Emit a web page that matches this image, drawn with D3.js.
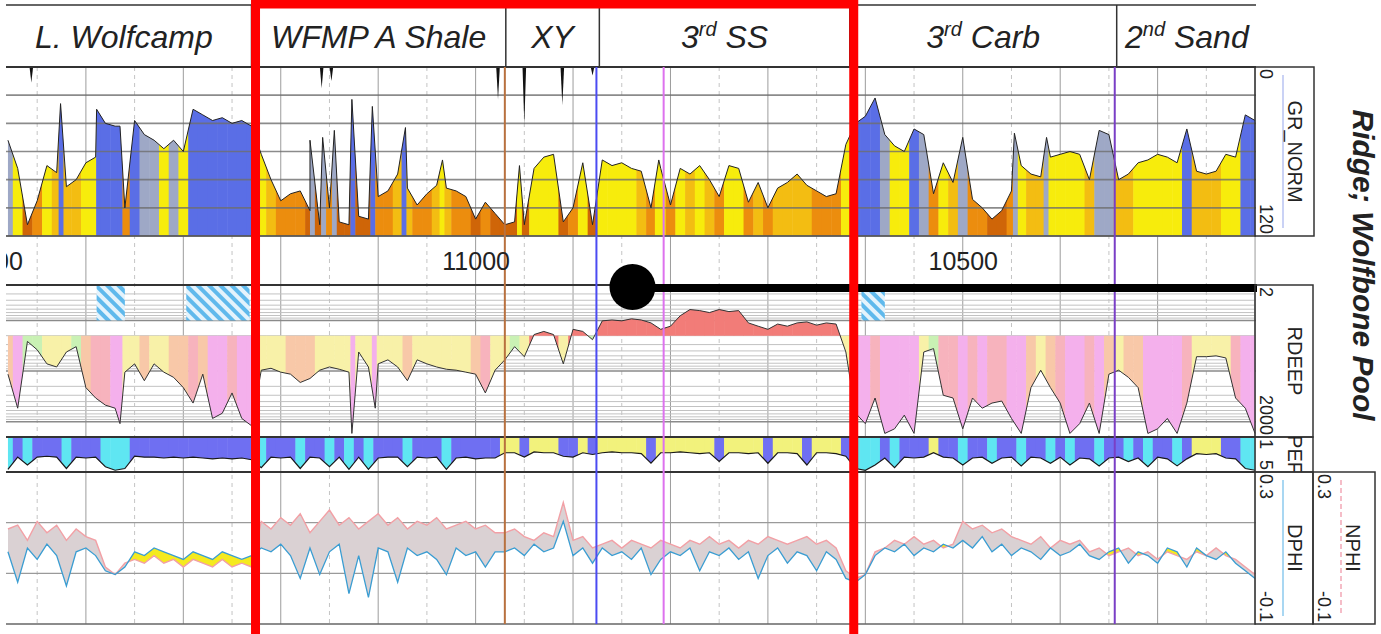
<!DOCTYPE html>
<html>
<head>
<meta charset="utf-8">
<script src="https://cdn.jsdelivr.net/npm/d3@7"></script>
<style>
body { margin: 0; background: #fff; }
text { font-family: Arial, "Liberation Sans", sans-serif; fill: #222; white-space: pre; }
</style>
</head>
<body>
<script>
// samples every 10 ft starting at 11480 ft
var depthTop = 11480, depthStep = 10;

var grValues = [52,72,112,95,70,75,85,80,68,64,
  40,42,100,38,48,52,58,52,60,30,
  34,38,36,40,38,42,62,80,95,90,
  88,102,112,100,110,112,106,108,92,88,
  76,86,98,90,84,86,88,92,108,96,
  104,112,110,112,72,64,62,110,100,68,
  112,66,70,68,72,74,100,72,98,72,
  76,70,80,92,70,72,96,82,100,86,
  82,76,84,88,92,90,55,40,35,22,
  48,56,60,44,48,90,68,82,50,94,
  100,108,102,88,70,76,78,64,62,60,
  62,80,45,48,80,76,68,66,62,64,
  68,44,74,76,74,62,64,34,38];
// thin spikes between samples [depth, GR]
var grSpikes = [[11426,26],[11389,30],[11365,42],[11170,52],[11157,50],[11145,45],[11127,23],
  [11106,28],[11072,43],[11034,66],[10955,70],[10812,66],[10447,47],[10414,50]];
// wrapped backup curve hanging from the top [depth, GR]
var grWrap = [[11456,11],[11158,15],[11148,10],[10977,23],[10950,41],[10911,27],[10880,6]];

var rdeepValues = [115,540,26,38,72,83,42,33,212,340,
  470,540,105,72,155,72,105,133,212,428,
  115,860,680,270,860,1200,96,88,105,115,
  168,140,96,83,92,105,42,83,72,60,
  83,155,60,72,83,92,96,105,115,270,
  96,60,33,52,19,16.5,19,72,15,16.5,
  24,10.2,9.8,10.2,9.3,9.8,11.2,15,13,8.1,
  6.1,6.4,7,6.1,6.7,6.4,11.2,13,15,11.8,
  13,11.2,10.7,12.4,11.2,11.8,42,680,1090,340,
  1700,1380,740,1700,42,36,300,340,1380,340,
  540,428,390,860,1700,212,96,212,428,1700,
  1090,428,1700,115,96,133,212,1700,1380,860,
  1700,428,52,52,50,55,340,540,1700];
var rdeepSpikes = [[11365,1090],[11127,1700],[11103,540]];
var rdeepCut = 20;

var pefValues = [4.7,3.3,4.2,3.3,3.2,3.3,4.6,3.3,3.4,3.3,
  4.4,4.8,4.6,3.2,3.3,3.3,3.4,3.3,3.4,3.3,
  3.4,3.5,3.4,3.5,3.4,3.6,4.5,3.3,3.4,3.3,
  4.6,3.3,3.4,4.4,3.3,4.7,3.3,4.7,3.4,3.3,
  3.3,4.4,3.3,3.4,3.3,4.7,3.4,3.3,3.5,3.4,
  3.4,2.8,2.8,3.3,2.7,2.8,2.8,3.2,3.3,2.8,
  3.0,2.8,2.7,2.8,2.8,2.9,4.0,2.8,2.8,2.7,
  2.8,2.9,2.8,3.8,2.8,2.8,2.9,2.8,4.0,2.8,
  2.8,2.9,4.2,2.8,2.8,2.9,3.2,4.6,4.8,4.2,
  3.4,4.5,3.3,3.4,3.3,2.8,3.3,3.4,4.2,3.4,
  3.3,4.0,3.4,3.3,4.3,3.3,3.4,4.0,3.3,4.2,
  3.4,3.5,4.3,3.4,3.3,3.8,3.4,4.4,3.3,3.5,
  4.3,3.5,2.9,3.0,2.9,3.4,3.5,4.6,4.8];
// L = limestone, S = sand, D = dolomite
var pefLith = "DLDLLLDLLL" + "DDDLLLLLLL" + "LLLLLLDLLL" + "DLLDLDLDLL" + "LDLLLDLLLL" +
  "LSSLSSSLLS" + "LSSSSSLSSS" + "SSSLSSSSLS" + "SSLSSSLDDD" + "LDLLLSLLDL" +
  "LDLLDLLDLD" + "LLDLLDLDLL" + "DLSSSLLDD";

var nphiValues = [0.15,0.16,0.12,0.17,0.14,0.16,0.12,0.15,0.13,0.12,
  0.05,0.03,0.06,
  0.07,0.06,0.08,0.06,0.07,0.05,0.07,0.06,0.05,0.07,0.05,0.06,0.05,
  0.17,0.15,0.18,0.16,0.19,0.14,0.17,0.20,0.16,0.18,0.15,0.17,0.19,0.16,0.18,0.15,0.17,0.16,0.18,0.15,0.16,0.17,0.15,0.16,0.14,
  0.14,0.15,0.13,0.12,0.14,0.13,0.22,0.12,0.13,0.10,
  0.11,0.12,0.10,0.12,0.11,0.10,0.12,0.11,0.10,0.12,0.11,0.13,0.11,0.12,0.10,0.12,0.11,0.13,0.12,0.11,0.12,0.13,0.11,0.12,0.10,
  0.04,0.02,0.03,
  0.09,0.10,0.12,0.11,0.13,0.11,0.12,0.10,0.11,
  0.17,0.15,0.16,0.14,0.15,0.13,
  0.12,0.11,0.13,0.10,0.12,0.11,0.12,0.09,0.10,0.08,0.09,0.10,0.08,0.09,0.07,0.09,0.08,0.07,0.09,0.08,0.10,0.08,0.07,0.05,0.03];
var dphiValues = [0.09,0.01,0.10,0.07,0.11,0.08,0.00,0.09,0.10,0.08,
  0.04,0.03,0.05,
  0.09,0.08,0.10,0.09,0.08,0.07,0.09,0.08,0.07,0.09,0.08,0.07,0.08,
  0.10,0.09,0.11,0.08,0.02,0.10,0.03,0.09,0.11,-0.02,0.08,-0.03,0.10,0.09,0.01,0.10,0.08,0.09,0.07,0.03,0.10,0.08,0.09,0.05,0.09,
  0.09,0.10,0.08,0.11,0.09,0.10,0.17,0.08,0.10,0.06,
  0.10,0.08,0.09,0.07,0.10,0.03,0.07,0.09,0.08,0.10,0.04,0.09,0.08,0.10,0.07,0.09,0.02,0.08,0.10,0.06,0.09,0.08,0.04,0.09,0.07,
  0.02,0.01,0.03,
  0.08,0.10,0.09,0.11,0.08,0.10,0.09,0.11,0.10,
  0.12,0.10,0.13,0.09,0.11,0.08,
  0.10,0.09,0.07,0.10,0.08,0.09,0.11,0.08,0.07,0.09,0.10,0.06,0.09,0.08,0.06,0.10,0.09,0.05,0.10,0.08,0.07,0.09,0.06,0.04,0.02];

var depthLabels = [11500, 11000, 10500];
var zoneNames = ["L. Wolfcamp", "WFMP A Shale", "XY", "3rd SS", "3rd Carb", "2nd Sand"];
var zoneTops = [11492, 11230, 10969, 10873, 10616, 10342, 10198];
var markerTops = [10970, 10876, 10807, 10344];
var markerColors = ["#b8713f", "#4b4bf2", "#dd72ee", "#7a3fc6"];
var flagZones = [[11389, 11360], [11297, 11232], [10604, 10580]];
var lateral = [10839, 10198];
var trackNames = ["GR_NORM", "RDEEP", "PEF", "DPHI", "NPHI"];
var trackMin = ["0", "2", "1", "0.3", "0.3"];
var trackMax = ["120", "2000", "5", "-0.1", "-0.1"];
var title = "Ridge; Wolfbone Pool";

var width = 1381, height = 634;
var left = 6, right = 1256;
var gr = {top: 67, bottom: 236}, rd = {top: 285, bottom: 437},
    pef = {top: 437, bottom: 472}, phi = {top: 472, bottom: 624};

var svg = d3.select("body").append("svg")
    .attr("width", width)
    .attr("height", height);
var defs = svg.append("defs");

var x = d3.scaleLinear().domain([11482, 10198]).range([left, 1257]);
var yGR = d3.scaleLinear().domain([0, 120]).range([gr.top, gr.bottom]);
var yRD = d3.scaleLog().domain([2, 2000]).range([rd.top, rd.bottom]).clamp(true);
var yPEF = d3.scaleLinear().domain([1, 5]).range([pef.top, pef.bottom]).clamp(true);
var yPHI = d3.scaleLinear().domain([0.3, -0.1]).range([phi.top, phi.bottom]).clamp(true);

var depths = grValues.map(function(d, i) { return depthTop - i * depthStep; });

function points(vals, spikes) {
  var pts = vals.map(function(v, i) { return {d: depths[i], v: v, i: i}; });
  (spikes || []).forEach(function(s) { pts.push({d: s[0], v: s[1], i: -1}); });
  return pts.sort(function(a, b) { return b.d - a.d; });
}

function strips(pts) {
  var xs = pts.map(function(p) { return x(p.d); });
  return pts.map(function(p, i) {
    var l = i == 0 ? xs[0] - (xs[1] - xs[0]) / 2 : (xs[i - 1] + xs[i]) / 2;
    var r = i == xs.length - 1 ? xs[i] + (xs[i] - xs[i - 1]) / 2 : (xs[i] + xs[i + 1]) / 2;
    return {x0: l, x1: r, p: p};
  });
}

defs.append("clipPath").attr("id", "plotClip")
  .append("rect").attr("x", left).attr("y", 0).attr("width", right - left).attr("height", height);

var hatch = defs.append("pattern").attr("id", "hatch")
    .attr("width", 8).attr("height", 8)
    .attr("patternUnits", "userSpaceOnUse")
    .attr("patternTransform", "rotate(-45)");
hatch.append("rect").attr("width", 8).attr("height", 8).attr("fill", "#e4f3fc");
hatch.append("rect").attr("width", 4).attr("height", 8).attr("fill", "#5fb9ec");

var plot = svg.append("g").attr("clip-path", "url(#plotClip)");

// depth grid
var gridDepths = d3.range(10200, 11500, 50);
plot.append("g").selectAll("line").data(gridDepths).join("line")
    .attr("x1", function(d) { return x(d); })
    .attr("x2", function(d) { return x(d); })
    .attr("y1", gr.top).attr("y2", phi.bottom)
    .attr("stroke", function(d) { return d % 100 == 0 ? "#9c9c9c" : "#c4c4c4"; })
    .attr("stroke-dasharray", function(d) { return d % 100 == 0 ? null : "4,4"; });

// resistivity log grid
plot.append("g").selectAll("line").data(yRD.ticks()).join("line")
    .attr("x1", left).attr("x2", right)
    .attr("y1", function(d) { return yRD(d); })
    .attr("y2", function(d) { return yRD(d); })
    .attr("stroke", function(d) { return [10, 100, 1000].indexOf(d) >= 0 ? "#8a8a8a" : "#c2c2c2"; })
    .attr("stroke-width", function(d) { return [10, 100, 1000].indexOf(d) >= 0 ? 1.5 : 1; });

// porosity grid
var phiGrid = [1, 2].map(function(k) { return 0.3 - k * 0.4 / 3; });
plot.append("g").selectAll("line").data(phiGrid).join("line")
    .attr("x1", left).attr("x2", right)
    .attr("y1", function(d) { return yPHI(d); })
    .attr("y2", function(d) { return yPHI(d); })
    .attr("stroke", "#9a9a9a").attr("stroke-width", 1.3);

// GR track
var grColor = d3.scaleThreshold().domain([45, 55, 73, 88, 101])
    .range(["#5a6ee6", "#9ea8c6", "#f7ec0c", "#f3bd12", "#ec8d0e", "#cf6508"]);
var grPts = points(grValues, grSpikes);
var grArea = d3.area().x(function(p) { return x(p.d); }).y0(gr.bottom).y1(function(p) { return yGR(p.v); });
var grLine = d3.line().x(function(p) { return x(p.d); }).y(function(p) { return yGR(p.v); });
defs.append("clipPath").attr("id", "grClip").append("path").attr("d", grArea(grPts));
plot.append("g").attr("clip-path", "url(#grClip)")
  .selectAll("rect").data(strips(grPts)).join("rect")
    .attr("x", function(s) { return s.x0; })
    .attr("width", function(s) { return s.x1 - s.x0 + 0.5; })
    .attr("y", gr.top).attr("height", gr.bottom - gr.top)
    .attr("fill", function(s) { return grColor(s.p.v); });
plot.append("g").selectAll("line").data(yGR.ticks(6)).join("line")
    .attr("x1", left).attr("x2", right)
    .attr("y1", function(d) { return yGR(d); })
    .attr("y2", function(d) { return yGR(d); })
    .attr("stroke", "#6e6e6e").attr("stroke-opacity", 0.8).attr("stroke-width", 1.6);
plot.append("path").attr("d", grLine(grPts))
    .attr("fill", "none").attr("stroke", "#222").attr("stroke-width", 1);
plot.append("g").selectAll("path").data(grWrap).join("path")
    .attr("d", function(s) {
      var cx = x(s[0]);
      return "M" + (cx - 1.8) + "," + gr.top + "L" + cx + "," + yGR(s[1]) + "L" + (cx + 1.8) + "," + gr.top + "Z";
    })
    .attr("fill", "#111");

// RDEEP track
var rdColor = d3.scaleThreshold().domain([rdeepCut, 40, 110, 220, 500])
    .range(["#f27c78", "#c9f1b4", "#f8f1a8", "#f8c8a8", "#f7b3bd", "#f4b0ec"]);
var rdPts = points(rdeepValues, rdeepSpikes);
var rdArea = d3.area().x(function(p) { return x(p.d); }).y0(yRD(rdeepCut)).y1(function(p) { return yRD(p.v); });
var rdLine = d3.line().x(function(p) { return x(p.d); }).y(function(p) { return yRD(p.v); });
defs.append("clipPath").attr("id", "rdClip").append("path").attr("d", rdArea(rdPts));
plot.append("g").attr("clip-path", "url(#rdClip)")
  .selectAll("rect").data(strips(rdPts)).join("rect")
    .attr("x", function(s) { return s.x0; })
    .attr("width", function(s) { return s.x1 - s.x0 + 0.5; })
    .attr("y", rd.top).attr("height", rd.bottom - rd.top)
    .attr("fill", function(s) { return rdColor(s.p.v); });
plot.append("g").selectAll("rect").data(flagZones).join("rect")
    .attr("x", function(z) { return x(z[0]); })
    .attr("width", function(z) { return x(z[1]) - x(z[0]); })
    .attr("y", rd.top + 1).attr("height", yRD(10) - rd.top - 1)
    .attr("fill", "url(#hatch)");
plot.append("path").attr("d", rdLine(rdPts))
    .attr("fill", "none").attr("stroke", "#333").attr("stroke-width", 1);

// PEF track
var lithColor = {L: "#6f6ff2", S: "#f2f27c", D: "#5fe6f2"};
var pefPts = points(pefValues);
var pefArea = d3.area().x(function(p) { return x(p.d); }).y0(pef.top).y1(function(p) { return yPEF(p.v); });
var pefLine = d3.line().x(function(p) { return x(p.d); }).y(function(p) { return yPEF(p.v); });
defs.append("clipPath").attr("id", "pefClip").append("path").attr("d", pefArea(pefPts));
plot.append("g").attr("clip-path", "url(#pefClip)")
  .selectAll("rect").data(strips(pefPts)).join("rect")
    .attr("x", function(s) { return s.x0; })
    .attr("width", function(s) { return s.x1 - s.x0 + 0.5; })
    .attr("y", pef.top).attr("height", pef.bottom - pef.top)
    .attr("fill", function(s) { return lithColor[pefLith[s.p.i]]; });
plot.append("path").attr("d", pefLine(pefPts))
    .attr("fill", "none").attr("stroke", "#1a1a1a").attr("stroke-width", 1.2);

// porosity track with crossover shading
var phiPts = depths.map(function(d, i) { return {d: d, n: nphiValues[i], p: dphiValues[i]}; });
var px = function(p) { return x(p.d); };
var aboveN = d3.area().x(px).y0(phi.top).y1(function(p) { return yPHI(p.n); });
var belowN = d3.area().x(px).y0(phi.bottom).y1(function(p) { return yPHI(p.n); });
var band = d3.area().x(px).y0(function(p) { return yPHI(p.n); }).y1(function(p) { return yPHI(p.p); });
defs.append("clipPath").attr("id", "aboveN").append("path").attr("d", aboveN(phiPts));
defs.append("clipPath").attr("id", "belowN").append("path").attr("d", belowN(phiPts));
plot.append("path").attr("d", band(phiPts)).attr("clip-path", "url(#aboveN)").attr("fill", "#f5ea1e");
plot.append("path").attr("d", band(phiPts)).attr("clip-path", "url(#belowN)").attr("fill", "#dad1d3");
plot.append("path").attr("d", d3.line().x(px).y(function(p) { return yPHI(p.n); })(phiPts))
    .attr("fill", "none").attr("stroke", "#f2a0a6").attr("stroke-width", 1.4);
plot.append("path").attr("d", d3.line().x(px).y(function(p) { return yPHI(p.p); })(phiPts))
    .attr("fill", "none").attr("stroke", "#3a9dd2").attr("stroke-width", 1.3);

// track frames
var frames = [[gr.top, "#333", 2], [gr.bottom, "#555", 1.5], [rd.top, "#333", 2],
  [pef.top, "#333", 2], [pef.bottom, "#333", 2], [phi.bottom, "#666", 1.5]];
plot.append("g").selectAll("line").data(frames).join("line")
    .attr("x1", left).attr("x2", right)
    .attr("y1", function(f) { return f[0]; }).attr("y2", function(f) { return f[0]; })
    .attr("stroke", function(f) { return f[1]; })
    .attr("stroke-width", function(f) { return f[2]; });

// zone header
var header = svg.append("g").attr("clip-path", "url(#plotClip)");
header.append("line").attr("x1", left).attr("x2", x(10198)).attr("y1", 5).attr("y2", 5)
    .attr("stroke", "#333").attr("stroke-width", 1.5);
header.selectAll("line.sep").data(zoneTops.slice(1)).join("line")
    .attr("class", "sep")
    .attr("x1", function(d) { return x(d); }).attr("x2", function(d) { return x(d); })
    .attr("y1", 5).attr("y2", gr.top)
    .attr("stroke", "#333").attr("stroke-width", 1.5);
zoneNames.forEach(function(name, i) {
  var cx = (x(zoneTops[i]) + x(zoneTops[i + 1])) / 2;
  var t = header.append("text")
      .attr("x", cx).attr("y", 48)
      .attr("text-anchor", "middle")
      .attr("font-size", 32).attr("font-style", "italic");
  var m = name.match(/^(\d)(rd|nd)(.*)$/);
  if (m) {
    t.append("tspan").text(m[1]);
    t.append("tspan").attr("dy", -12).attr("font-size", 20).text(m[2]);
    t.append("tspan").attr("dy", 12).text(m[3]);
  } else {
    t.text(name);
  }
});

// depth labels
var axis = svg.append("g")
    .attr("transform", "translate(0," + 249 + ")")
    .attr("clip-path", "url(#plotClip)")
    .call(d3.axisBottom(x).tickValues(depthLabels).tickSize(0).tickFormat(d3.format("d")));
axis.select(".domain").remove();
axis.selectAll("text").attr("font-size", 25).attr("fill", "#222")
    .style("font-family", "Arial, 'Liberation Sans', sans-serif");

// formation marker lines
plot.append("g").selectAll("line").data(markerTops).join("line")
    .attr("x1", function(d) { return x(d); }).attr("x2", function(d) { return x(d); })
    .attr("y1", gr.top).attr("y2", phi.bottom)
    .attr("stroke", function(d, i) { return markerColors[i]; })
    .attr("stroke-width", 2);

// lateral
svg.append("line")
    .attr("x1", x(lateral[0])).attr("x2", x(lateral[1]))
    .attr("y1", rd.top + 3).attr("y2", rd.top + 3)
    .attr("stroke", "#000").attr("stroke-width", 8);
svg.append("circle")
    .attr("cx", x(lateral[0])).attr("cy", rd.top + 2).attr("r", 23)
    .attr("fill", "#000");

// curve header boxes
var boxes = [
  {x0: 1255, x1: 1314, y0: gr.top, y1: gr.bottom, line: "#b9c3f2"},
  {x0: 1255, x1: 1313, y0: rd.top, y1: rd.bottom},
  {x0: 1255, x1: 1313, y0: pef.top, y1: pef.bottom},
  {x0: 1255, x1: 1313, y0: phi.top, y1: phi.bottom, line: "#8ccaee"},
  {x0: 1313, x1: 1375, y0: phi.top, y1: phi.bottom, line: "#f2a8b6", dash: "5,3"}
];
boxes.forEach(function(b, i) {
  var g = svg.append("g");
  defs.append("clipPath").attr("id", "box" + i)
    .append("rect").attr("x", b.x0).attr("y", b.y0).attr("width", b.x1 - b.x0).attr("height", b.y1 - b.y0);
  g.append("rect")
      .attr("x", b.x0).attr("y", b.y0)
      .attr("width", b.x1 - b.x0).attr("height", b.y1 - b.y0)
      .attr("fill", "none").attr("stroke", "#333").attr("stroke-width", 1.5);
  if (b.line) {
    g.append("line")
        .attr("x1", b.x0 + 28).attr("x2", b.x0 + 28)
        .attr("y1", b.y0 + 8).attr("y2", b.y1 - 8)
        .attr("stroke", b.line).attr("stroke-width", 1.5)
        .attr("stroke-dasharray", b.dash || null);
  }
  var t = g.append("g").attr("clip-path", "url(#box" + i + ")");
  t.append("text")
      .attr("transform", "translate(" + (b.x0 + 5) + "," + (b.y0 + 2) + ") rotate(90)")
      .attr("font-size", 18).text(trackMin[i]);
  t.append("text")
      .attr("transform", "translate(" + (b.x0 + 5) + "," + (b.y1 - 2) + ") rotate(90)")
      .attr("text-anchor", "end").attr("font-size", 18).text(trackMax[i]);
  t.append("text")
      .attr("transform", "translate(" + (b.x0 + 33) + "," + ((b.y0 + b.y1) / 2) + ") rotate(90)")
      .attr("text-anchor", "middle").attr("font-size", 20).text(trackNames[i]);
});

svg.append("text")
    .attr("transform", "translate(1353,265) rotate(90)")
    .attr("text-anchor", "middle")
    .attr("font-size", 30).attr("font-weight", "bold").attr("font-style", "italic")
    .text(title);

// highlight box
svg.append("rect")
    .attr("x", x(11230) + 4).attr("y", 4)
    .attr("width", x(10616) - x(11230)).attr("height", 700)
    .attr("fill", "none").attr("stroke", "#ff0000").attr("stroke-width", 9);
</script>
</body>
</html>
